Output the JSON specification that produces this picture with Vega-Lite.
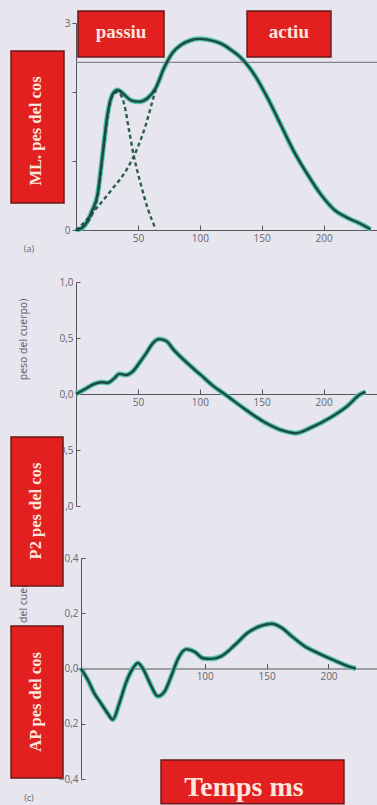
{
  "$schema": "https://vega.github.io/schema/vega-lite/v6.json",
  "background": "#e7e5ed",
  "padding": {"left": 10, "top": 10, "right": 0, "bottom": 0},
  "autosize": {"type": "pad"},
  "bounds": "flush",
  "spacing": 52,
  "config": {
    "view": {"stroke": null},
    "axis": {"domainColor": "#55575c", "tickColor": "#55575c", "labelColor": "#66666e", "labelFont": "Open Sans", "labelFontSize": 10, "grid": false, "titleFont": "Open Sans", "titleFontWeight": "normal", "titleColor": "#5c5c64", "titleFontSize": 10.5}
  },
  "datasets": {
    "a_total": [
      {"t": 0, "v": 0}, {"t": 4, "v": 0.02}, {"t": 9.4, "v": 0.13}, {"t": 13, "v": 0.28}, {"t": 17.5, "v": 0.52},
      {"t": 21.5, "v": 1.1}, {"t": 25.5, "v": 1.68}, {"t": 29.6, "v": 1.97}, {"t": 33.6, "v": 2.03}, {"t": 39, "v": 1.96},
      {"t": 44.4, "v": 1.88}, {"t": 51, "v": 1.86}, {"t": 57.8, "v": 1.91}, {"t": 64.5, "v": 2.06}, {"t": 71.2, "v": 2.35},
      {"t": 78, "v": 2.57}, {"t": 84.7, "v": 2.68}, {"t": 92.7, "v": 2.75}, {"t": 100, "v": 2.77}, {"t": 106, "v": 2.76},
      {"t": 113, "v": 2.73}, {"t": 119.6, "v": 2.68}, {"t": 126, "v": 2.6}, {"t": 133, "v": 2.5}, {"t": 143.8, "v": 2.26},
      {"t": 154.6, "v": 1.92}, {"t": 165.3, "v": 1.53}, {"t": 176, "v": 1.14}, {"t": 186.9, "v": 0.81}, {"t": 197.6, "v": 0.52},
      {"t": 208.3, "v": 0.3}, {"t": 219, "v": 0.18}, {"t": 229.8, "v": 0.09}, {"t": 238, "v": 0.01}
    ],
    "a_passiu": [
      {"t": 0, "v": 0}, {"t": 9.4, "v": 0.12}, {"t": 17.5, "v": 0.5}, {"t": 21.5, "v": 1.07}, {"t": 25.5, "v": 1.65},
      {"t": 29.6, "v": 1.95}, {"t": 33.6, "v": 2.0}, {"t": 39, "v": 1.82}, {"t": 43, "v": 1.43}, {"t": 47, "v": 1.05},
      {"t": 52.4, "v": 0.66}, {"t": 57.8, "v": 0.32}, {"t": 64.5, "v": 0.01}
    ],
    "a_actiu": [
      {"t": 0, "v": 0}, {"t": 5, "v": 0.08}, {"t": 14.8, "v": 0.28}, {"t": 28.2, "v": 0.57}, {"t": 41.7, "v": 0.9},
      {"t": 49.7, "v": 1.19}, {"t": 56.5, "v": 1.53}, {"t": 61.8, "v": 1.87}, {"t": 64.5, "v": 2.04}
    ],
    "b": [
      {"t": 0, "v": 0}, {"t": 6.7, "v": 0.04}, {"t": 14.8, "v": 0.09}, {"t": 20.2, "v": 0.105}, {"t": 25.5, "v": 0.1},
      {"t": 30.9, "v": 0.14}, {"t": 35, "v": 0.18}, {"t": 40.3, "v": 0.17}, {"t": 45.7, "v": 0.2}, {"t": 51, "v": 0.275},
      {"t": 56.5, "v": 0.36}, {"t": 61.8, "v": 0.45}, {"t": 67.2, "v": 0.49}, {"t": 72.6, "v": 0.475}, {"t": 79.3, "v": 0.39},
      {"t": 90, "v": 0.275}, {"t": 100.8, "v": 0.17}, {"t": 111, "v": 0.07}, {"t": 120, "v": 0.0}, {"t": 135.8, "v": -0.13},
      {"t": 152, "v": -0.25}, {"t": 168, "v": -0.33}, {"t": 177.6, "v": -0.35}, {"t": 189.8, "v": -0.3}, {"t": 205.6, "v": -0.21},
      {"t": 219, "v": -0.11}, {"t": 230, "v": 0.0}, {"t": 234, "v": 0.02}
    ],
    "c": [
      {"t": 0, "v": 0}, {"t": 5.4, "v": -0.04}, {"t": 10.8, "v": -0.09}, {"t": 16.2, "v": -0.126}, {"t": 21.6, "v": -0.163},
      {"t": 25.7, "v": -0.185}, {"t": 31, "v": -0.126}, {"t": 36.5, "v": -0.05}, {"t": 41.9, "v": 0.0}, {"t": 46, "v": 0.02},
      {"t": 50, "v": 0.0}, {"t": 55.4, "v": -0.05}, {"t": 62.2, "v": -0.1}, {"t": 67.6, "v": -0.083}, {"t": 73, "v": -0.027},
      {"t": 78.4, "v": 0.035}, {"t": 85.2, "v": 0.07}, {"t": 92, "v": 0.06}, {"t": 98.7, "v": 0.037}, {"t": 105.5, "v": 0.035},
      {"t": 113.6, "v": 0.045}, {"t": 124.3, "v": 0.085}, {"t": 135, "v": 0.13}, {"t": 146, "v": 0.155}, {"t": 154, "v": 0.162},
      {"t": 162, "v": 0.148}, {"t": 170, "v": 0.118}, {"t": 181, "v": 0.08}, {"t": 192, "v": 0.055}, {"t": 205.4, "v": 0.028},
      {"t": 216, "v": 0.008}, {"t": 222, "v": 0}
    ]
  },
  "vconcat": [
    {
      "width": 302,
      "height": 207,
      "layer": [
        {
          "data": {"name": "a_total"},
          "mark": {"type": "line", "color": "#52c2a8", "strokeWidth": 5, "interpolate": "monotone"},
          "encoding": {
            "x": {"field": "t", "type": "quantitative", "scale": {"domain": [0, 244], "nice": false, "zero": false},
                  "axis": {"title": null, "values": [50, 100, 150, 200], "tickSize": -5, "labelPadding": 8}},
            "y": {"field": "v", "type": "quantitative", "scale": {"domain": [0, 3], "nice": false},
                  "axis": {"title": null, "values": [0, 1, 2, 3], "tickSize": 4, "labelExpr": "datum.value == 0 || datum.value == 3 ? format(datum.value, 'd') : ''"}}
          }
        },
        {
          "data": {"values": [{"v": 2.43}]},
          "mark": {"type": "rule", "color": "#85858d", "strokeWidth": 1.2},
          "encoding": {"y": {"field": "v", "type": "quantitative"}}
        },
        {
          "data": {"name": "a_passiu"},
          "mark": {"type": "line", "color": "#2e5c52", "strokeWidth": 2.4, "strokeDash": [4, 3], "interpolate": "monotone"},
          "encoding": {
            "x": {"field": "t", "type": "quantitative"},
            "y": {"field": "v", "type": "quantitative"}
          }
        },
        {
          "data": {"name": "a_actiu"},
          "mark": {"type": "line", "color": "#2e5c52", "strokeWidth": 2.4, "strokeDash": [4, 3], "interpolate": "monotone"},
          "encoding": {
            "x": {"field": "t", "type": "quantitative"},
            "y": {"field": "v", "type": "quantitative"}
          }
        },
        {
          "data": {"name": "a_total"},
          "mark": {"type": "line", "color": "#1e4842", "strokeWidth": 2.4, "interpolate": "monotone"},
          "encoding": {
            "x": {"field": "t", "type": "quantitative"},
            "y": {"field": "v", "type": "quantitative"}
          }
        },
        {
          "data": {"values": [{"label": "ML. pes del cos"}]},
          "mark": {"type": "rect", "fill": "#e2201f", "stroke": "#6a1a1a", "strokeWidth": 1.5},
          "encoding": {
            "x": {"datum": -52.5, "type": "quantitative"},
            "x2": {"datum": -9.7},
            "y": {"datum": 2.594, "type": "quantitative"},
            "y2": {"datum": 0.391}
          }
        },
        {
          "data": {"values": [{"label": "ML. pes del cos"}]},
          "mark": {"type": "text", "font": "Liberation Serif", "fontWeight": "bold", "fontSize": 16.5, "color": "#fde6df", "angle": 270, "align": "center", "baseline": "middle"},
          "encoding": {
            "x": {"datum": -32.3, "type": "quantitative"},
            "y": {"datum": 1.435, "type": "quantitative"},
            "text": {"field": "label"}
          }
        },
        {
          "data": {"values": [{"label": "passiu", "x0": 1.6, "x1": 71.1}, {"label": "actiu", "x0": 138.2, "x1": 206}]},
          "mark": {"type": "rect", "fill": "#e2201f", "stroke": "#6a1a1a", "strokeWidth": 1.5},
          "encoding": {
            "x": {"field": "x0", "type": "quantitative"},
            "x2": {"field": "x1"},
            "y": {"datum": 3.174, "type": "quantitative"},
            "y2": {"datum": 2.507}
          }
        },
        {
          "data": {"values": [{"label": "passiu", "xm": 36.4}, {"label": "actiu", "xm": 172}]},
          "mark": {"type": "text", "font": "Liberation Serif", "fontWeight": "bold", "fontSize": 19, "color": "#fde6df", "align": "center", "baseline": "middle"},
          "encoding": {
            "x": {"field": "xm", "type": "quantitative"},
            "y": {"datum": 2.87, "type": "quantitative"},
            "text": {"field": "label"}
          }
        },
        {
          "data": {"values": [{"label": "(a)"}]},
          "mark": {"type": "text", "font": "Open Sans", "fontSize": 9, "color": "#66666e", "align": "center", "baseline": "middle"},
          "encoding": {
            "x": {"datum": -38, "type": "quantitative"},
            "y": {"datum": -0.275, "type": "quantitative"},
            "text": {"field": "label"}
          }
        }
      ]
    },
    {
      "width": 302,
      "height": 224,
      "layer": [
        {
          "data": {"name": "b"},
          "mark": {"type": "line", "color": "#52c2a8", "strokeWidth": 5, "interpolate": "monotone"},
          "encoding": {
            "x": {"field": "t", "type": "quantitative", "scale": {"domain": [0, 244], "nice": false, "zero": false},
                  "axis": {"title": null, "values": [50, 100, 150, 200], "tickSize": -5, "labelPadding": 8, "offset": -112}},
            "y": {"field": "v", "type": "quantitative", "scale": {"domain": [-1, 1], "nice": false},
                  "axis": {"title": "peso del cuerpo)", "titleAngle": -90, "titleX": -53, "titleY": 57, "titleAlign": "center", "titleBaseline": "middle",
                           "values": [-1, -0.5, 0, 0.5, 1], "tickSize": -4, "labelPadding": 7, "labelExpr": "replace(format(datum.value, '.1f'), '.', ',')"}}
          }
        },
        {
          "data": {"name": "b"},
          "mark": {"type": "line", "color": "#1e4842", "strokeWidth": 2.4, "interpolate": "monotone"},
          "encoding": {
            "x": {"field": "t", "type": "quantitative"},
            "y": {"field": "v", "type": "quantitative"}
          }
        }
      ]
    },
    {
      "width": 302,
      "height": 221,
      "layer": [
        {
          "data": {"name": "c"},
          "mark": {"type": "line", "color": "#52c2a8", "strokeWidth": 5, "interpolate": "monotone"},
          "encoding": {
            "x": {"field": "t", "type": "quantitative", "scale": {"domain": [-4, 240], "nice": false, "zero": false},
                  "axis": {"title": null, "values": [100, 150, 200], "tickSize": -5, "labelPadding": 8, "offset": -110.5}},
            "y": {"field": "v", "type": "quantitative", "scale": {"domain": [-0.4, 0.4], "nice": false},
                  "axis": {"title": "peso del cuerpo)", "titleAngle": -90, "titleX": -58, "titleY": 50, "titleAlign": "center", "titleBaseline": "middle",
                           "offset": -5, "values": [-0.4, -0.2, 0, 0.2, 0.4], "tickSize": -4, "labelPadding": 7, "labelExpr": "replace(format(datum.value, '.1f'), '.', ',')"}}
          }
        },
        {
          "data": {"name": "c"},
          "mark": {"type": "line", "color": "#1e4842", "strokeWidth": 2.4, "interpolate": "monotone"},
          "encoding": {
            "x": {"field": "t", "type": "quantitative"},
            "y": {"field": "v", "type": "quantitative"}
          }
        },
        {
          "data": {"values": [{"label": "P2 pes del cos", "y0": 0.838, "y1": 0.299}, {"label": "AP pes del cos", "y0": 0.154, "y1": -0.396}]},
          "mark": {"type": "rect", "fill": "#e2201f", "stroke": "#6a1a1a", "strokeWidth": 1.5},
          "encoding": {
            "x": {"datum": -56.5, "type": "quantitative"},
            "x2": {"datum": -14.5},
            "y": {"field": "y0", "type": "quantitative"},
            "y2": {"field": "y1"}
          }
        },
        {
          "data": {"values": [{"label": "P2 pes del cos", "ym": 0.57}, {"label": "AP pes del cos", "ym": -0.121}]},
          "mark": {"type": "text", "font": "Liberation Serif", "fontWeight": "bold", "fontSize": 16.5, "color": "#fde6df", "angle": 270, "align": "center", "baseline": "middle"},
          "encoding": {
            "x": {"datum": -36.3, "type": "quantitative"},
            "y": {"field": "ym", "type": "quantitative"},
            "text": {"field": "label"}
          }
        },
        {
          "data": {"values": [{"label": "Temps ms"}]},
          "mark": {"type": "rect", "fill": "#e2201f", "stroke": "#6a1a1a", "strokeWidth": 1.5},
          "encoding": {
            "x": {"datum": 64.7, "type": "quantitative"},
            "x2": {"datum": 212.5},
            "y": {"datum": -0.331, "type": "quantitative"},
            "y2": {"datum": -0.49}
          }
        },
        {
          "data": {"values": [{"label": "Temps ms"}]},
          "mark": {"type": "text", "font": "Liberation Serif", "fontWeight": "bold", "fontSize": 28, "color": "#fde6df", "align": "center", "baseline": "middle"},
          "encoding": {
            "x": {"datum": 131.7, "type": "quantitative"},
            "y": {"datum": -0.433, "type": "quantitative"},
            "text": {"field": "label"}
          }
        },
        {
          "data": {"values": [{"label": "(c)"}]},
          "mark": {"type": "text", "font": "Open Sans", "fontSize": 9, "color": "#66666e", "align": "center", "baseline": "middle"},
          "encoding": {
            "x": {"datum": -42, "type": "quantitative"},
            "y": {"datum": -0.469, "type": "quantitative"},
            "text": {"field": "label"}
          }
        }
      ]
    }
  ]
}
